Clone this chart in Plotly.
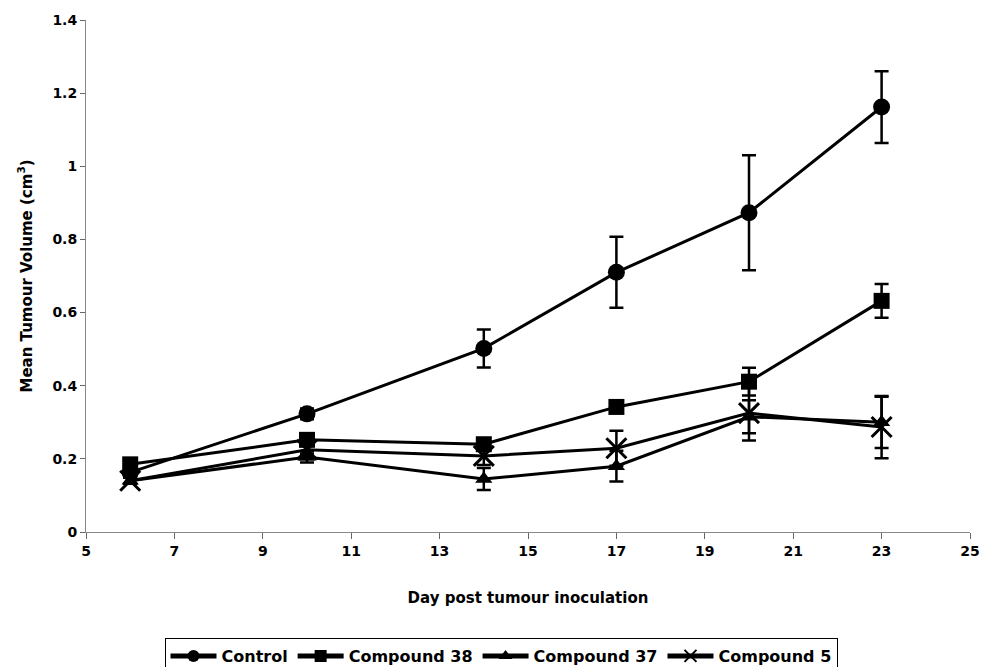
import plotly.graph_objects as go

days = [6, 10, 14, 17, 20, 23]

control = [0.163, 0.323, 0.502, 0.710, 0.873, 1.162]
control_err = [0.01, 0.015, 0.052, 0.097, 0.157, 0.098]

cmp38 = [0.185, 0.252, 0.240, 0.342, 0.411, 0.632]
cmp38_err = [0.01, 0.012, 0.012, 0.015, 0.038, 0.046]

cmp37 = [0.140, 0.205, 0.145, 0.180, 0.315, 0.300]
cmp37_err = [0.008, 0.015, 0.030, 0.042, 0.045, 0.070]

cmp5 = [0.140, 0.225, 0.208, 0.229, 0.325, 0.287]
cmp5_err = [0.008, 0.012, 0.025, 0.048, 0.075, 0.085]

x_ticks = [5, 7, 9, 11, 13, 15, 17, 19, 21, 23, 25]
y_ticks = [0, 0.2, 0.4, 0.6, 0.8, 1, 1.2, 1.4]
y_tick_labels = ["0", "0.2", "0.4", "0.6", "0.8", "1", "1.2", "1.4"]

series = [
    ("Control", control, control_err, "circle", 17),
    ("Compound 38", cmp38, cmp38_err, "square", 16),
    ("Compound 37", cmp37, cmp37_err, "triangle-up", 15),
    ("Compound 5", cmp5, cmp5_err, "x-thin", 20),
]

fig = go.Figure()
for name, y, err, sym, size in series:
    fig.add_trace(go.Scatter(
        x=days, y=y, name="<b>" + name + "</b>", mode="lines+markers",
        line=dict(color="black", width=3),
        marker=dict(symbol=sym, size=size, color="black",
                    line=dict(color="black", width=3 if sym == "x-thin" else 0)),
        error_y=dict(type="data", array=err, visible=True, color="black",
                     thickness=2.5, width=7),
    ))

W, H = 985, 667
font_family = "DejaVu Sans, Liberation Sans, Arial, sans-serif"
fig.update_layout(
    width=W, height=H,
    margin=dict(l=86, r=15, t=20, b=135, autoexpand=False),
    paper_bgcolor="white", plot_bgcolor="white",
    font=dict(family=font_family, size=14, color="black"),
    showlegend=True,
    legend=dict(orientation="h", xref="container", yref="container",
                x=501 / W, xanchor="center", y=(H - 638) / H, yanchor="top",
                bordercolor="black", borderwidth=1, itemsizing="constant",
                font=dict(family=font_family, size=16, color="black"),
                itemwidth=46, tracegroupgap=0),
    xaxis=dict(range=[5, 25], tickvals=x_ticks, ticktext=["<b>%d</b>" % v for v in x_ticks],
               automargin=False, ticklabeloverflow="allow",
               showgrid=False, zeroline=False, showline=True, linecolor="#888888",
               linewidth=1, ticks="outside", tickcolor="#666666", ticklen=6,
               tickfont=dict(family=font_family, size=14, color="black"),
               title=dict(text="<b>Day post tumour inoculation</b>",
                          font=dict(family=font_family, size=15, color="black"), standoff=34)),
    yaxis=dict(range=[0, 1.4], tickvals=y_ticks, ticktext=["<b>%s</b>" % t for t in y_tick_labels],
               automargin=False,
               showgrid=False, zeroline=False, showline=True, linecolor="#888888",
               linewidth=1, ticks="outside", tickcolor="#666666", ticklen=5,
               tickfont=dict(family=font_family, size=14, color="black"),
               title=dict(text="<b>Mean Tumour Volume (cm<sup>3</sup>)</b>",
                          font=dict(family=font_family, size=15, color="black"), standoff=16)),
)

# remove the default page margin so the figure sits at the window's top-left corner
page_fix = ("document.documentElement.style.overflow='hidden';"
            "document.body.style.margin='0';document.body.style.overflow='hidden';")
fig.write_html("out.html", post_script=page_fix, config={"displayModeBar": False})
